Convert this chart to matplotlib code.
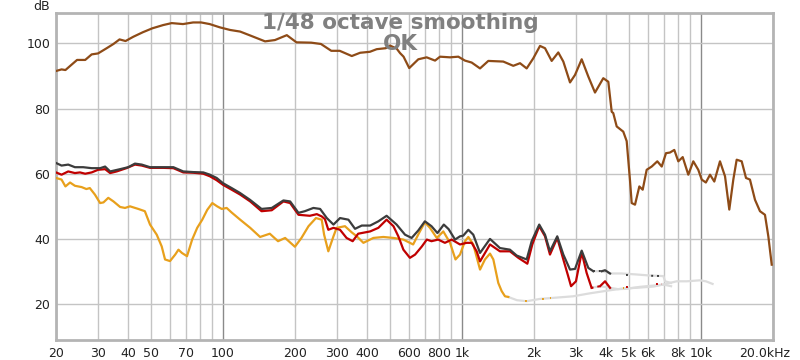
import matplotlib

matplotlib.use("Agg")
import matplotlib.pyplot as plt

# Frequency response values (Hz, dB)
brown_f = [20, 21.1, 21.9, 23.2, 24.5, 26.5, 28.2, 30, 32.6, 34.8, 36.9, 39.1, 42.1, 46.2,
           50.6, 56.2, 61, 68, 75, 81, 88, 97, 107, 118, 130, 143, 150, 165, 185, 203, 234,
           257, 284, 308, 346, 375, 412, 440, 480, 500, 533, 551, 570, 602, 657, 712, 772,
           810, 892, 966, 1030, 1099, 1191, 1290, 1490, 1641, 1751, 1867, 1990, 2123, 2228,
           2376, 2532, 2658, 2835, 2975, 3173, 3382, 3607, 3907, 4101, 4237, 4301, 4446,
           4737, 4895, 5053, 5137, 5304, 5530, 5712, 5935, 6230, 6575, 6862, 7150, 7430,
           7745, 8050, 8400, 8865, 9303, 9760, 10090, 10500, 10930, 11390, 12030, 12630,
           13160, 13680, 14130, 14830, 15460, 16060, 16860, 17690, 18560, 19170, 19810]
brown_db = [91.5, 92.0, 91.8, 93.4, 94.9, 94.9, 96.6, 96.9, 98.5, 99.8, 101.2, 100.7, 102.0,
            103.4, 104.6, 105.6, 106.2, 105.9, 106.4, 106.4, 105.9, 104.9, 104.1, 103.6,
            102.4, 101.2, 100.6, 101.0, 102.5, 100.3, 100.2, 99.8, 97.7, 97.7, 96.1, 97.1,
            97.4, 98.2, 98.5, 99.3, 98.4, 97.0, 95.9, 92.4, 95.1, 95.7, 94.7, 95.9, 95.7,
            95.9, 94.7, 94.1, 92.3, 94.6, 94.4, 93.1, 93.9, 92.3, 95.4, 99.2, 98.5, 94.6,
            97.2, 94.4, 88.0, 90.3, 95.1, 89.8, 84.9, 89.3, 88.2, 79.0, 78.6, 74.5, 72.9,
            70.0, 58.0, 51.0, 50.5, 56.1, 55.1, 61.2, 62.2, 63.8, 62.2, 66.3, 66.5, 67.3,
            63.8, 65.1, 59.7, 63.8, 61.2, 58.2, 57.3, 59.7, 57.6, 63.8, 59.2, 49.0, 58.2,
            64.3, 63.8, 58.7, 58.2, 52.0, 48.5, 47.4, 40.8, 32.1]

black_f = [20, 21.1, 22.5, 24, 26, 28.2, 30.6, 32.1, 33.7, 37.1, 40.1, 42.8, 45.7, 49.5,
           56.2, 62, 68.2, 75.1, 82.7, 88.2, 94.1, 100, 108.7, 117.8, 129.7, 145, 160, 179,
           191, 207, 220, 239, 255, 272, 290, 309, 335, 357, 381, 413, 447, 484, 533, 578,
           616, 657, 700, 746, 790, 840, 880, 936, 982, 1013, 1064, 1116, 1191, 1311, 1443,
           1589, 1696, 1867, 1959, 2107, 2228, 2337, 2507, 2658, 2835, 2975, 3173, 3382, 3548]
black_db = [63.3, 62.5, 62.8, 62.0, 62.0, 61.7, 61.7, 62.2, 60.7, 61.4, 62.0, 63.1, 62.8,
            62.0, 62.0, 62.0, 60.7, 60.5, 60.4, 59.7, 58.7, 57.1, 55.6, 54.1, 52.0, 49.2,
            49.5, 51.8, 51.5, 48.0, 48.5, 49.5, 49.2, 46.4, 44.4, 46.4, 45.9, 43.1, 44.1,
            44.1, 45.4, 47.1, 44.4, 41.3, 40.3, 42.6, 45.4, 43.9, 41.8, 44.4, 43.0, 39.8,
            40.8, 41.0, 42.8, 41.3, 35.7, 40.0, 37.2, 36.7, 34.9, 33.7, 39.3, 44.4, 41.3,
            36.2, 40.8, 35.2, 30.6, 30.8, 36.4, 31.1, 30.1]
black_tail_f = [3851, 3974, 4169]
black_tail_db = [30.1, 30.4, 29.4]

red_f = [20, 21.1, 22.5, 24, 25.2, 26.5, 28.2, 30, 32.1, 33.7, 35.9, 39.4, 42.8, 45.7, 49.5,
         56.2, 62, 68.2, 75.1, 82.7, 88.2, 94.1, 100, 108.7, 118, 130, 145, 160, 179, 191,
         207, 231, 247, 259, 267, 276, 290, 309, 329, 349, 368, 413, 447, 484, 517, 542,
         569, 606, 637, 680, 713, 746, 796, 849, 906, 982, 1047, 1099, 1153, 1191, 1311,
         1443, 1589, 1723, 1879, 1971, 2107, 2228, 2337, 2507, 2658, 2785, 2863, 3002,
         3173, 3327, 3490]
red_db = [60.4, 59.7, 60.7, 60.2, 60.4, 60.0, 60.4, 61.2, 61.4, 60.2, 60.7, 61.7, 62.8,
          62.5, 61.8, 61.8, 61.7, 60.4, 60.3, 60.0, 59.2, 58.0, 56.6, 55.1, 53.6, 51.5,
          48.5, 48.8, 51.5, 51.0, 47.4, 47.1, 47.6, 46.9, 46.1, 42.8, 43.4, 42.8, 40.3,
          39.3, 41.6, 42.3, 43.4, 45.9, 43.9, 40.8, 36.7, 34.2, 35.2, 37.7, 39.8, 39.3,
          39.8, 38.8, 39.8, 38.3, 38.8, 38.8, 36.2, 33.1, 38.3, 36.2, 36.2, 34.2, 32.4,
          38.3, 43.9, 40.8, 35.2, 40.3, 33.7, 28.6, 25.5, 27.0, 35.9, 29.6, 25.0]
red_tail_f = [3786, 3974, 4169]
red_tail_db = [25.5, 27.0, 25.0]

orange_f = [20, 21.1, 21.9, 22.9, 24, 25.6, 26.8, 27.7, 29.1, 30.6, 31.6, 33.1, 34.8, 37.1,
            38.9, 40.8, 44.2, 47.1, 49.5, 52.8, 55.4, 57.2, 60, 63.1, 65.1, 67.3, 70.7,
            74.3, 78, 81.9, 85.9, 90.2, 94.5, 98.8, 103.6, 108.7, 118, 130, 143, 157, 170,
            182, 200, 213, 228, 245, 259, 265, 276, 290, 299, 324, 346, 363, 387, 426, 469,
            517, 569, 625, 667, 700, 735, 785, 836, 892, 940, 982, 1030, 1064, 1116, 1191,
            1249, 1311, 1354, 1420, 1467, 1515, 1564]
orange_db = [58.7, 58.2, 56.1, 57.3, 56.3, 55.9, 55.3, 55.6, 53.6, 51.0, 51.2, 52.6, 51.5,
             49.8, 49.5, 50.0, 49.2, 48.5, 44.4, 41.3, 37.7, 33.7, 33.2, 35.2, 36.7, 35.7,
             34.7, 39.8, 43.4, 45.9, 48.9, 51.0, 50.0, 49.2, 49.5, 48.1, 45.9, 43.4, 40.6,
             41.6, 39.3, 40.3, 37.6, 40.3, 43.9, 46.4, 45.9, 41.3, 36.2, 40.8, 43.4, 43.9,
             42.0, 40.8, 38.8, 40.3, 40.6, 40.3, 39.8, 38.3, 42.3, 45.1, 43.4, 40.3, 42.3,
             38.8, 33.7, 35.2, 39.3, 40.6, 38.3, 30.6, 33.7, 35.5, 33.7, 26.5, 24.0, 22.4,
             22.2]

# light grey traces above the noise floor limit
grey_low_f = [1564, 1700, 1867, 2123, 2489, 2921, 3425, 4120, 4737, 5370, 6360, 7242, 7925,
              8740, 9900, 10500, 11200]
grey_low_db = [22.2, 21.2, 20.9, 21.6, 22.0, 22.4, 23.3, 24.2, 24.8, 25.0, 25.4, 26.3, 27.0,
               27.0, 27.3, 27.0, 26.2]
grey_top_f = [3548, 3851, 4169, 4660, 5370, 6040, 6970, 7090, 7500]
grey_top_db = [30.1, 30.1, 29.4, 29.4, 29.1, 28.8, 28.6, 27.0, 26.5]
grey_mid_f = [3490, 3786, 4169, 4500, 4895, 5560, 6360, 6970, 7510]
grey_mid_db = [25.0, 25.5, 25.0, 24.6, 24.7, 25.3, 25.7, 26.0, 25.5]

# short coloured dotted bits poking through the grey
black_dots = [([3548, 3851], [30.1, 30.1]), ([4850, 5000], [29.0, 29.0]),
              ([6200, 6860], [28.7, 28.6])]
red_dots = [([3490, 3786], [25.0, 25.5]), ([4850, 5000], [25.2, 25.2]),
            ([6500, 6900], [26.2, 26.2])]
orange_dots = [([1840, 1870], [20.9, 20.9]), ([2170, 2200], [21.7, 21.7]),
               ([2330, 2360], [21.9, 21.9]), ([4730, 4780], [24.8, 24.8])]

tick_f = [20, 30, 40, 50, 70, 100, 200, 300, 400, 600, 800, 1000, 2000, 3000, 4000, 5000,
          6000, 8000, 10000, 20000]
tick_lbl = ["20", "30", "40", "50", "70", "100", "200", "300", "400", "600", "800", "1k",
            "2k", "3k", "4k", "5k", "6k", "8k", "10k", ""]
grid_f = [20, 30, 40, 50, 60, 70, 80, 90, 200, 300, 400, 500, 600, 700, 800, 900, 2000,
          3000, 4000, 5000, 6000, 7000, 8000, 9000, 20000]
decade_f = [100, 1000, 10000]
y_ticks = [20, 40, 60, 80, 100]

BROWN = "#8e4b17"
BLACK = "#3c3c3c"
RED = "#c00000"
ORANGE = "#e8a01c"
GREY = "#dcdcdc"

fig = plt.figure(figsize=(8, 3.6), dpi=100)
ax = fig.add_axes([0.07, 0.0556, 0.8959, 0.9083])
ax.set_xscale("log")
ax.set_xlim(20, 20000)
ax.set_ylim(9.0, 109.3)

for f in grid_f:
    ax.axvline(f, color="#c4c4c4", lw=1.0, zorder=0)
for f in decade_f:
    ax.axvline(f, color="#8a8a8a", lw=1.0, zorder=0)
for y in y_ticks:
    ax.axhline(y, color="#c4c4c4", lw=1.0, zorder=0)

lw = 1.6
ax.plot(grey_low_f, grey_low_db, color=GREY, lw=lw, zorder=1)
ax.plot(grey_top_f, grey_top_db, color=GREY, lw=lw, zorder=1)
ax.plot(grey_mid_f, grey_mid_db, color=GREY, lw=lw, zorder=1)
for fs, ds in orange_dots:
    ax.plot(fs, ds, color=ORANGE, lw=1.4, ls=(0, (1, 2)), zorder=2)
for fs, ds in red_dots:
    ax.plot(fs, ds, color=RED, lw=1.4, ls=(0, (1, 2)), zorder=2)
for fs, ds in black_dots:
    ax.plot(fs, ds, color=BLACK, lw=1.4, ls=(0, (1, 2)), zorder=2)

ax.plot(orange_f, orange_db, color=ORANGE, lw=lw, zorder=3)
ax.plot(red_f, red_db, color=RED, lw=lw, zorder=4)
ax.plot(red_tail_f, red_tail_db, color=RED, lw=lw, zorder=4)
ax.plot(black_f, black_db, color=BLACK, lw=lw, zorder=5)
ax.plot(black_tail_f, black_tail_db, color=BLACK, lw=lw, zorder=5)
ax.plot(brown_f, brown_db, color=BROWN, lw=lw, zorder=6)

ax.set_xticks(tick_f)
ax.set_xticklabels(tick_lbl)
ax.xaxis.set_minor_locator(matplotlib.ticker.NullLocator())
ax.set_yticks(y_ticks)
ax.tick_params(length=0, labelsize=9, colors="#222222")
ax.tick_params(axis="x", pad=5)
ax.tick_params(axis="y", pad=4)
ax.annotate("20.0kHz", xy=(20000, 9.0), xytext=(-6, -5), textcoords="offset points",
            ha="center", va="top", fontsize=9, color="#222222", annotation_clip=False)
fig.text(50 / 800, 1 - 7 / 360, "dB", ha="right", va="center", fontsize=9, color="#222222")

for s in ax.spines.values():
    s.set_color("#b4b4b4")
    s.set_linewidth(2)

fig.text(0.5, 1 - 23 / 360, "1/48 octave smoothing", ha="center", va="center",
         fontsize=15.5, fontweight="bold", color="#808080")
fig.text(0.5, 1 - 44 / 360, "OK", ha="center", va="center",
         fontsize=15.5, fontweight="bold", color="#808080")

fig.savefig("out.png", dpi=100)
